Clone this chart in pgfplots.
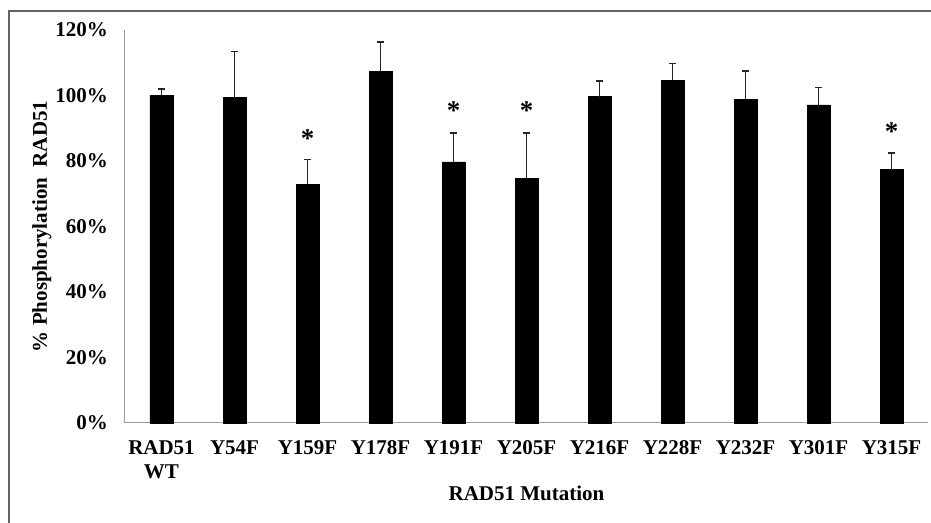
\documentclass[border=0pt]{standalone}
\usepackage{fontspec}
\setmainfont{Liberation Serif}
\usepackage{pgfplots}
\pgfplotsset{compat=1.18}
\begin{document}
\begin{tikzpicture}
\useasboundingbox (-62.5pt,-50pt) rectangle (403pt,211.5pt);
\draw[gray!80!black, line width=0.7pt] (-58pt,-50pt) -- (-58pt,206pt) -- (403pt,206pt);
\begin{axis}[
  at={(0,0)}, anchor=south west,
  scale only axis, width=401.5pt, height=196.5pt,
  xmin=-0.5, xmax=10.5, ymin=0, ymax=120,
  axis x line=bottom, axis y line=left,
  axis line style={gray!80, line width=0.5pt, -},
  major tick length=0pt,
  xtick={0,...,10},
  xticklabels={{\strut RAD51\\WT},\strut Y54F,\strut Y159F,\strut Y178F,\strut Y191F,\strut Y205F,\strut Y216F,\strut Y228F,\strut Y232F,\strut Y301F,\strut Y315F},
  xticklabel style={align=center, anchor=north, font=\fontsize{10.5}{12}\selectfont\bfseries, yshift=-4pt},
  ytick={0,20,40,60,80,100,120},
  yticklabels={0\%,20\%,40\%,60\%,80\%,100\%,120\%},
  yticklabel style={font=\fontsize{10.5}{12}\selectfont\bfseries, xshift=-5pt},
  xlabel={RAD51 Mutation},
  ylabel={\% Phosphorylation\ \ RAD51},
  xlabel style={at={(rel axis cs:0.5,-0.178)}, anchor=center, font=\fontsize{10.5}{12}\selectfont\bfseries},
  ylabel style={at={(rel axis cs:-0.1034,0.5)}, anchor=center, font=\fontsize{10.5}{12}\selectfont\bfseries},
  clip=false,
]
\addplot[ybar, bar width=11.5pt, fill=black, draw=black,
  error bars/.cd, y dir=plus, y explicit,
  error bar style={line width=0.8pt, black!85},
  error mark options={rotate=90, mark size=1.6pt, line width=0.8pt, black!85}]
 coordinates {
 (0,100.0) +- (0,1.9)
 (1,99.3) +- (0,14.1)
 (2,72.9) +- (0,7.6)
 (3,107.3) +- (0,9.1)
 (4,79.7) +- (0,8.8)
 (5,74.6) +- (0,14.0)
 (6,99.6) +- (0,4.8)
 (7,104.7) +- (0,5.1)
 (8,98.8) +- (0,8.7)
 (9,97.1) +- (0,5.3)
 (10,77.3) +- (0,5.2)
 };
\addplot[draw=none, mark=none, nodes near coords={*},
  every node near coord/.style={anchor=center, inner sep=0pt, font=\fontsize{13.5}{14}\selectfont\bfseries, yshift=-2pt}]
 coordinates {(2,88.2) (4,96.6) (5,96.6) (10,90.3)};
\end{axis}
\end{tikzpicture}
\end{document}
